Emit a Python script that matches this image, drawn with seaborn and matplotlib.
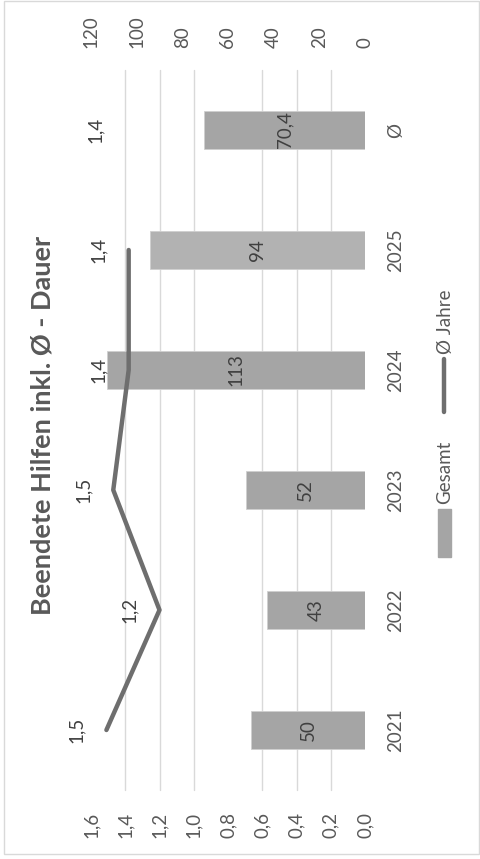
import matplotlib
matplotlib.use("Agg")
import matplotlib.pyplot as plt
import seaborn as sns
import pandas as pd
import numpy as np
from matplotlib.patches import Rectangle
from matplotlib.lines import Line2D

# data (chart is drawn turned by 90 degrees, like the reference)
jahre = ["2021", "2022", "2023", "2024", "2025", "Ø"]
gesamt = [50, 43, 52, 113, 94, 70.4]
gesamt_labels = ["50", "43", "52", "113", "94", "70,4"]
dauer = [1.51, 1.2, 1.47, 1.38, 1.38, 1.4]
dauer_labels = ["1,5", "1,2", "1,5", "1,4", "1,4", "1,4"]
n_line = 5  # line runs 2021-2025 only
left_ticks = [0.0, 0.2, 0.4, 0.6, 0.8, 1.0, 1.2, 1.4, 1.6]
right_ticks = [0, 20, 40, 60, 80, 100, 120]

sns.set_style("white")
plt.rcParams["font.family"] = ["Lato", "DejaVu Sans"]

W, H = 480, 859
txt = "#595959"
dark = "#404040"
bar_c = "#a5a5a5"
line_c = "#6e6e6e"
fs = 13.5

df = pd.DataFrame({"Jahr": jahre, "Gesamt": gesamt})

fig = plt.figure(figsize=(W / 100, H / 100), dpi=100)
ax = fig.add_axes([91 / W, 1 - 790 / H, (365 - 91) / W, 720 / H])

sns.barplot(data=df, x="Gesamt", y="Jahr", orient="h", color=bar_c, saturation=1,
            width=0.31, edgecolor="#cfcfcf", linewidth=0.6, ax=ax)
ax.patches[4].set_facecolor("#b2b2b2")
ax.set_ylim(-0.5, 5.5)
ax.set_xlim(120, 0)
ax.set_xlabel("")
ax.set_ylabel("")

# gridlines follow the left (duration) axis: every 0.2 -> 15 units
ax.set_xticks(np.arange(0, 121, 15), minor=True)
ax.grid(which="minor", axis="x", color="#d9d9d9", lw=1)
ax.grid(which="major", visible=False)
ax.set_axisbelow(True)
for t in ax.xaxis.get_minor_ticks():
    t.gridline.set_clip_on(False)

ax.bar_label(ax.containers[0], labels=gesamt_labels, label_type="center",
             rotation=90, fontsize=fs, color=dark)

# line on second axis
ax2 = ax.twiny()
sns.lineplot(x=dauer[:n_line], y=list(range(n_line)), orient="y", sort=False,
             color=line_c, lw=3.2, solid_capstyle="round", ax=ax2)
ax2.set_xlim(1.6, 0)
ax2.set_ylim(-0.5, 5.5)
ax2.set_xlabel("")
ax2.set_ylabel("")
ax2.xaxis.tick_bottom()
ax2.set_xticks(left_ticks)
ax2.set_xticklabels([f"{t:.1f}".replace(".", ",") for t in left_ticks])
ax2.tick_params(axis="x", length=0, pad=16, labelsize=fs, labelcolor=txt,
                labelrotation=90)
for s in ax2.spines.values():
    s.set_visible(False)
ax2.grid(False)

# bar axis ticks on top (after twiny, which moves them)
ax.xaxis.tick_top()
ax.set_xticks(right_ticks)
ax.set_xticklabels([str(t) for t in right_ticks])
ax.tick_params(axis="x", which="both", length=0, pad=16, labelsize=fs,
               labelcolor=txt, labelrotation=90)
ax.yaxis.tick_right()
ax.tick_params(axis="y", length=0, pad=16, labelsize=fs, labelcolor=txt)
plt.setp(ax.get_yticklabels(), rotation=90, va="center", ha="left")
for s in ax.spines.values():
    s.set_visible(False)

for i, (v, lab) in enumerate(zip(dauer, dauer_labels)):
    ax2.annotate(lab, (v, i), xytext=(-30, 0), textcoords="offset pixels",
                 rotation=90, ha="center", va="center", fontsize=fs, color=dark)

# title
fig.text(43 / W, 1 - 425 / H, "Beendete Hilfen inkl. Ø - Dauer", rotation=90,
         ha="center", va="center", fontsize=19.5, fontweight="bold", color=txt)

# legend (turned like the chart)
fig.patches.append(Rectangle((438 / W, 1 - 557 / H), 13 / W, 48 / H,
                             transform=fig.transFigure, color=bar_c))
fig.text(445 / W, 1 - 504 / H, "Gesamt", rotation=90, ha="center", va="bottom",
         fontsize=fs, color=txt)
fig.add_artist(Line2D([444 / W, 444 / W], [1 - 412 / H, 1 - 359 / H],
                      transform=fig.transFigure, lw=3.2, color=line_c,
                      solid_capstyle="round"))
fig.text(445 / W, 1 - 354 / H, "Ø Jahre", rotation=90, ha="center", va="bottom",
         fontsize=fs, color=txt)

# chart border
fig.patches.append(Rectangle((4 / W, 1 - 854 / H), 475 / W, 853 / H,
                             transform=fig.transFigure, fill=False,
                             edgecolor="#d9d9d9", lw=1))

fig.savefig("out.png", dpi=100)
